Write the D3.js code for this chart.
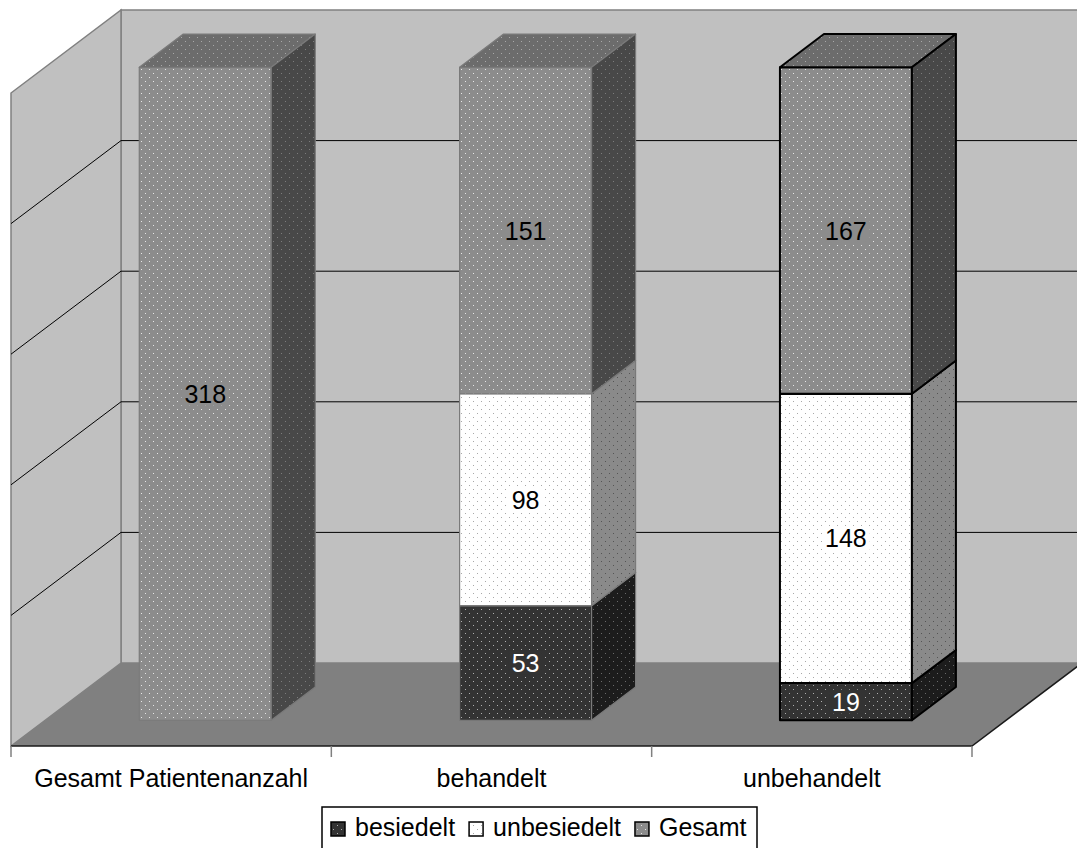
<!DOCTYPE html>
<html>
<head>
<meta charset="utf-8">
<script src="https://cdn.jsdelivr.net/npm/d3@7"></script>
<style>
  body { margin: 0; background: #ffffff; }
  svg { display: block; font-family: "Liberation Sans", Arial, sans-serif; }
</style>
</head>
<body>
<svg id="chart" width="1077" height="848"></svg>
<script>
// Patient counts per group, stacked and shown as shares of each column
const categories = ["Gesamt Patientenanzahl", "behandelt", "unbehandelt"];
const seriesNames = ["besiedelt", "unbesiedelt", "Gesamt"];
const besiedelt = [0, 53, 19];
const unbesiedelt = [0, 98, 148];
const gesamt = [318, 151, 167];
const gridShares = [0.2, 0.4, 0.6, 0.8];

const rows = categories.map((c, i) => ({
  category: c,
  besiedelt: besiedelt[i],
  unbesiedelt: unbesiedelt[i],
  Gesamt: gesamt[i]
}));

const svg = d3.select("#chart");

// Oblique 3D projection: front plane + depth vector
const DEPTH = [110, -83];
const x = d3.scaleBand().domain(categories).range([11, 972]);
const y = d3.scaleLinear().domain([0, 1]).range([746, 93]);
const P = (px, py, z) => [px + z * DEPTH[0], py + z * DEPTH[1]];
const poly = pts => "M" + pts.map(p => p.join(",")).join("L") + "Z";

// Face fills: base colour with a fine dot raster
const defs = svg.append("defs");
function dotPattern(id, base, dot) {
  const p = defs.append("pattern").attr("id", id)
    .attr("patternUnits", "userSpaceOnUse").attr("width", 8).attr("height", 8);
  p.append("rect").attr("width", 8).attr("height", 8).attr("fill", base);
  p.append("rect").attr("x", 1).attr("y", 1).attr("width", 1).attr("height", 1).attr("fill", dot);
  p.append("rect").attr("x", 5).attr("y", 5).attr("width", 1).attr("height", 1).attr("fill", dot);
}
const faceStyle = {
  besiedelt:   { front: ["#333333", "#b0b0b0"], top: ["#2a2a2a", "#8a8a8a"], side: ["#1c1c1c", "#6a6a6a"], text: "#ffffff" },
  unbesiedelt: { front: ["#ffffff", "#a8a8a8"], top: ["#c8c8c8", "#8a8a8a"], side: ["#8a8a8a", "#555555"], text: "#000000" },
  Gesamt:      { front: ["#8c8c8c", "#e6e6e6"], top: ["#6c6c6c", "#a8a8a8"], side: ["#484848", "#7c7c7c"], text: "#000000" }
};
Object.entries(faceStyle).forEach(([k, s]) => {
  ["front", "top", "side"].forEach(f => dotPattern(`pat-${k}-${f}`, s[f][0], s[f][1]));
});

// Walls and floor
const x0 = x.range()[0], x1 = x.range()[1];
svg.append("path")
  .attr("d", poly([P(x0, y(1), 1), P(x1, y(1), 1), P(x1, y(0), 1), P(x0, y(0), 1)]))
  .attr("fill", "#c0c0c0").attr("stroke", "#808080").attr("stroke-width", 1.5);
svg.append("path")
  .attr("d", poly([P(x0, y(1), 0), P(x0, y(1), 1), P(x0, y(0), 1), P(x0, y(0), 0)]))
  .attr("fill", "#c0c0c0").attr("stroke", "#808080").attr("stroke-width", 1.5);
svg.append("path")
  .attr("d", poly([P(x0, y(0), 0), P(x1, y(0), 0), P(x1, y(0), 1), P(x0, y(0), 1)]))
  .attr("fill", "#808080");

// Gridlines on the back and side walls
const grid = svg.append("g").attr("stroke", "#000").attr("stroke-width", 1).attr("fill", "none");
gridShares.forEach(v => {
  grid.append("path").attr("d", "M" + [P(x0, y(v), 0), P(x0, y(v), 1), P(x1, y(v), 1)].map(p => p.join(",")).join("L"));
});

// Floor edges and category ticks
svg.append("path")
  .attr("d", "M" + [P(x0, y(0), 0), P(x1, y(0), 0), P(x1, y(0), 1)].map(p => p.join(",")).join("L"))
  .attr("fill", "none").attr("stroke", "#1a1a1a").attr("stroke-width", 1.5);
const tickXs = categories.map(c => x(c)).concat([x1]);
svg.append("g").selectAll("line").data(tickXs).join("line")
  .attr("x1", d => d).attr("x2", d => d).attr("y1", y(0)).attr("y2", y(0) + 11)
  .attr("stroke", "#808080").attr("stroke-width", 1.5);

// Stacked columns as shares of the column total
const stacked = d3.stack().keys(seriesNames).offset(d3.stackOffsetExpand)(rows);
const bw = x.bandwidth();
const barFrac = 0.412, zFront = 0.31, zBack = 0.71;
const edgeStyle = [
  { stroke: "#7a7a7a", width: 1.2 },
  { stroke: "#7a7a7a", width: 1.2 },
  { stroke: "#000000", width: 2 }
];

const bars = svg.append("g");
const labels = svg.append("g").attr("font-size", 25).attr("text-anchor", "middle");

categories.forEach((c, i) => {
  const bx0 = x(c) + bw * (0.5 - barFrac / 2);
  const bx1 = bx0 + bw * barFrac;
  const es = edgeStyle[i];
  const g = bars.append("g").attr("stroke", es.stroke).attr("stroke-width", es.width)
    .attr("stroke-linejoin", "round");
  stacked.forEach(layer => {
    const key = layer.key;
    const [v0, v1] = layer[i];
    const value = rows[i][key];
    if (!value) return;
    const fs = faceStyle[key];
    g.append("path").attr("fill", `url(#pat-${key}-front)`)
      .attr("d", poly([P(bx0, y(v1), zFront), P(bx1, y(v1), zFront), P(bx1, y(v0), zFront), P(bx0, y(v0), zFront)]));
    g.append("path").attr("fill", `url(#pat-${key}-top)`)
      .attr("d", poly([P(bx0, y(v1), zFront), P(bx1, y(v1), zFront), P(bx1, y(v1), zBack), P(bx0, y(v1), zBack)]));
    g.append("path").attr("fill", `url(#pat-${key}-side)`)
      .attr("d", poly([P(bx1, y(v1), zFront), P(bx1, y(v1), zBack), P(bx1, y(v0), zBack), P(bx1, y(v0), zFront)]));

    const [lx, ly] = P((bx0 + bx1) / 2, y((v0 + v1) / 2), zFront);
    const lg = labels.append("g");
    const t = lg.append("text").attr("x", lx).attr("y", ly)
      .attr("dy", "0.36em").attr("fill", fs.text).text(value);
    const bb = t.node().getBBox();
    lg.insert("rect", "text")
      .attr("x", bb.x - 3).attr("y", bb.y + 2).attr("width", bb.width + 6).attr("height", bb.height - 4)
      .attr("fill", fs.front[0]);
  });
});

// Category labels
svg.append("g").attr("font-size", 25).attr("text-anchor", "middle")
  .selectAll("text").data(categories).join("text")
  .attr("x", d => x(d) + bw / 2).attr("y", 787).text(d => d);

// Legend
const legend = svg.append("g");
legend.append("rect").attr("x", 322).attr("y", 807).attr("width", 435).attr("height", 46)
  .attr("fill", "#fff").attr("stroke", "#000").attr("stroke-width", 1.5);
let lx = 331;
seriesNames.forEach(name => {
  legend.append("rect").attr("x", lx).attr("y", 822).attr("width", 14).attr("height", 14)
    .attr("fill", `url(#pat-${name}-front)`).attr("stroke", "#000").attr("stroke-width", 1.5);
  const t = legend.append("text").attr("x", lx + 24).attr("y", 836).attr("font-size", 25).text(name);
  lx = lx + 24 + t.node().getComputedTextLength() + 14;
});
</script>
</body>
</html>
